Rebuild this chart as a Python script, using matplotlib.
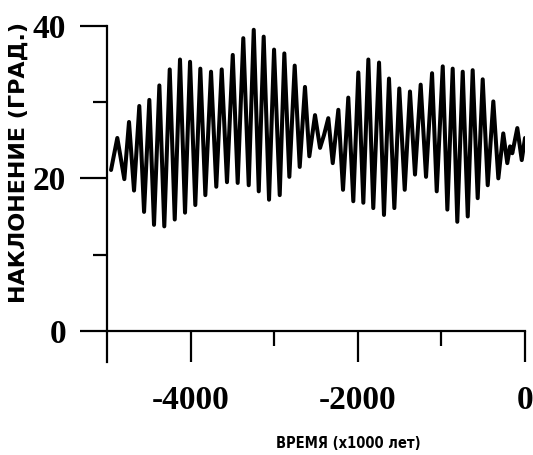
import matplotlib
matplotlib.use('Agg')
import matplotlib.pyplot as plt
from matplotlib.ticker import FixedLocator

plt.rcParams['axes.unicode_minus'] = False

# time, thousand years (successive maxima / minima)
time_kyr = [-4952, -4877, -4793, -4737, -4677, -4614, -4557, -4494, -4438, -4374,
            -4315, -4250, -4190, -4127, -4067, -4007, -3944, -3884, -3824, -3756,
            -3693, -3628, -3565, -3496, -3437, -3370, -3305, -3245, -3185, -3126,
            -3062, -3002, -2934, -2879, -2819, -2755, -2695, -2632, -2580, -2512,
            -2452, -2404, -2353, -2300, -2233, -2177, -2114, -2054, -1994, -1934,
            -1874, -1815, -1746, -1687, -1627, -1563, -1504, -1439, -1376, -1316,
            -1248, -1184, -1112, -1056, -984, -929, -865, -810, -745, -685,
            -626, -566, -506, -446, -379, -319, -260, -212, -179, -152,
            -92, -39, 0]

# obliquity, degrees
obliquity = [21.1, 25.3, 19.9, 27.4, 18.4, 29.5, 15.6, 30.3, 13.9, 32.2,
             13.7, 34.3, 14.6, 35.6, 15.5, 35.3, 16.5, 34.4, 17.8, 34.0,
             18.9, 34.3, 19.5, 36.2, 19.4, 38.4, 19.1, 39.5, 18.3, 38.6,
             17.2, 36.9, 17.8, 36.4, 20.2, 34.8, 21.5, 32.0, 22.9, 28.3,
             24.0, 25.7, 27.9, 22.0, 29.0, 18.5, 30.6, 17.0, 33.9, 16.8,
             35.6, 16.1, 35.2, 15.2, 33.1, 16.1, 31.8, 18.5, 31.4, 20.5,
             32.3, 20.2, 33.8, 18.3, 34.7, 15.9, 34.4, 14.3, 34.0, 15.0,
             34.2, 17.4, 33.0, 19.1, 30.1, 20.0, 25.9, 22.0, 24.2, 23.3,
             26.6, 22.4, 25.3]

x_major = [-4000, -2000, 0]
x_minor = [-3000, -1000]
y_major = [0, 20, 40]
y_minor = [10, 30]

fig = plt.figure(figsize=(5.33, 4.55), dpi=100)
ax = fig.add_axes([0.2008, 0.2044, 0.7842, 0.7385])

ax.plot(time_kyr, obliquity, color='black', lw=2.9,
        solid_joinstyle='round', solid_capstyle='round')

ax.set_xlim(-5000, 0)
ax.set_ylim(-4.1, 40)

for side in ['top', 'right']:
    ax.spines[side].set_visible(False)
ax.spines['bottom'].set_position(('data', 0))
ax.spines['left'].set_linewidth(1.6)
ax.spines['bottom'].set_linewidth(1.6)

ax.xaxis.set_major_locator(FixedLocator(x_major))
ax.xaxis.set_minor_locator(FixedLocator(x_minor))
ax.yaxis.set_major_locator(FixedLocator(y_major))
ax.yaxis.set_minor_locator(FixedLocator(y_minor))

ax.tick_params(axis='x', which='major', direction='out', length=22, width=1.6, pad=17)
ax.tick_params(axis='x', which='minor', direction='out', length=11, width=1.6)
ax.tick_params(axis='y', which='major', direction='out', length=19.5, width=1.6, pad=10)
ax.tick_params(axis='y', which='minor', direction='out', length=10, width=1.6)

for lab in ax.get_xticklabels() + ax.get_yticklabels():
    lab.set_fontfamily(['Liberation Serif', 'DejaVu Serif'])
    lab.set_fontweight('bold')
    lab.set_fontsize(24)

ax.set_xlabel('ВРЕМЯ (x1000 лет)', family=['DejaVu Sans'], fontstretch='condensed',
              fontweight='heavy', fontsize=10.5, va='center')
ax.xaxis.set_label_coords(0.5766, -0.244)

ax.set_ylabel('НАКЛОНЕНИЕ (ГРАД.)', family=['DejaVu Sans'],
              fontweight='heavy', fontsize=16, va='center')
ax.yaxis.set_label_coords(-0.2105, 0.595)

fig.savefig('out.png', dpi=100)
